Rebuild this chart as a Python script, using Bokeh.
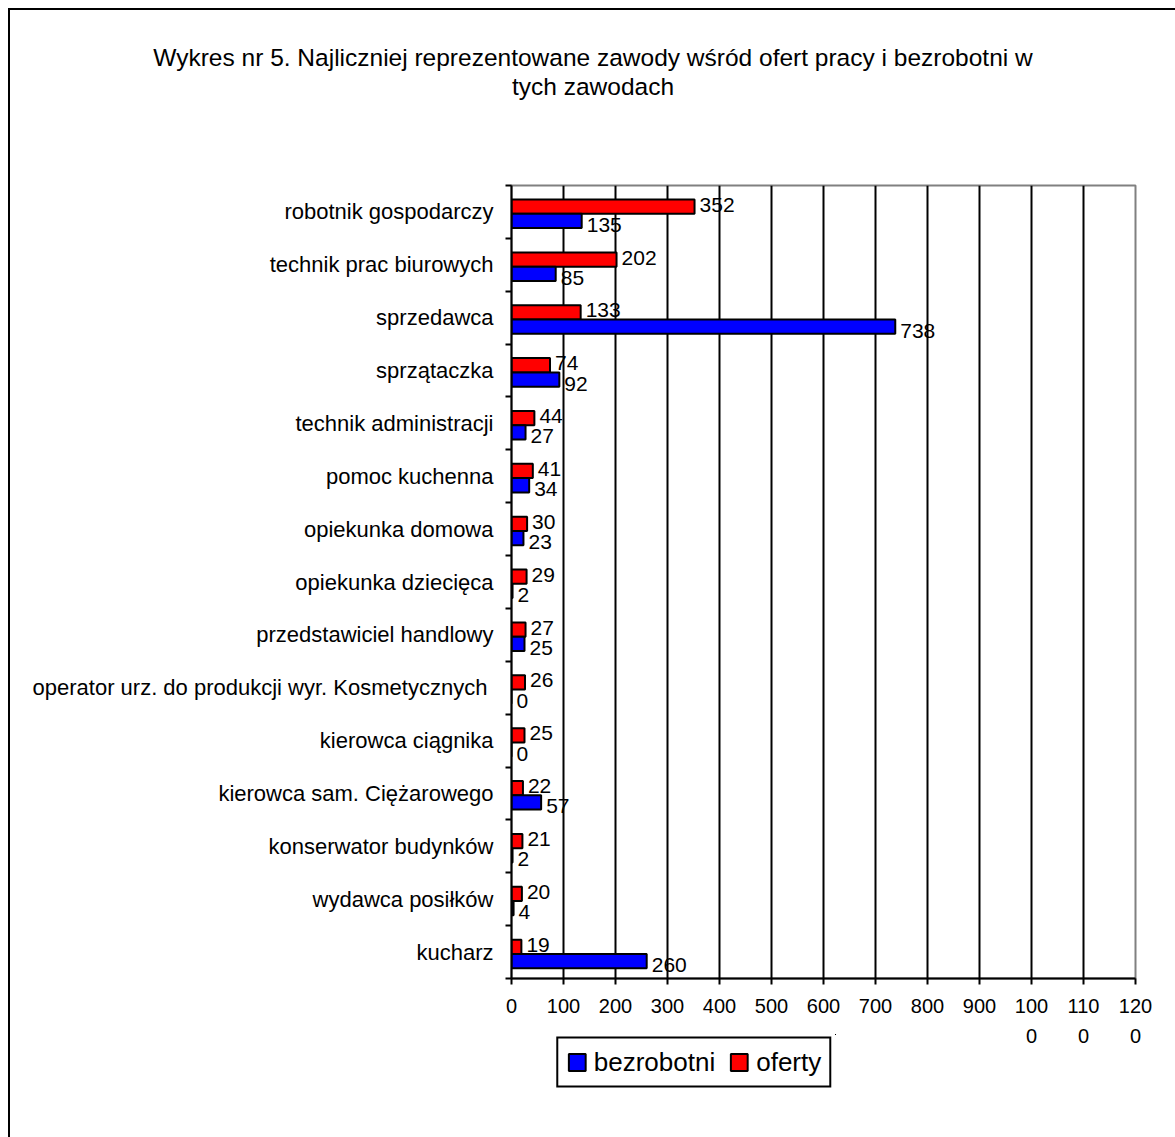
from bokeh.plotting import figure
from bokeh.models import (ColumnDataSource, Range1d, FixedTicker, Legend, LegendItem, Title)
from bokeh.layouts import column
from bokeh.core.properties import value
from bokeh.transform import dodge
from bokeh.embed import file_html
from bokeh.resources import INLINE

categories = ["robotnik gospodarczy", "technik prac biurowych", "sprzedawca", "sprzątaczka",
              "technik administracji", "pomoc kuchenna", "opiekunka domowa", "opiekunka dziecięca",
              "przedstawiciel handlowy", "operator urz. do produkcji  wyr. Kosmetycznych",
              "kierowca ciągnika", "kierowca sam. Ciężarowego", "konserwator budynków",
              "wydawca posiłków", "kucharz"]
oferty = [352, 202, 133, 74, 44, 41, 30, 29, 27, 26, 25, 22, 21, 20, 19]
bezrobotni = [135, 85, 738, 92, 27, 34, 23, 2, 25, 0, 0, 57, 2, 4, 260]
x_ticks = [0, 100, 200, 300, 400, 500, 600, 700, 800, 900, 1000, 1100, 1200]
x_tick_labels = ["0", "100", "200", "300", "400", "500", "600", "700", "800", "900",
                 "100\n0", "110\n0", "120\n0"]
title_line1 = "Wykres nr 5. Najliczniej reprezentowane zawody wśród ofert pracy i bezrobotni w"
title_line2 = "tych zawodach"
series_names = ["bezrobotni", "oferty"]
series_colors = ["#0000FF", "#FF0000"]

FONT = "Liberation Sans"
W = 1165

n = len(categories)
pos = [n - i - 0.5 for i in range(n)]
bounds = [float(i) for i in range(n + 1)]

src = ColumnDataSource(dict(y=pos, cat=categories, oferty=oferty, bezrobotni=bezrobotni,
                            ol=[str(v) for v in oferty], bl=[str(v) for v in bezrobotni]))

# ---- title strip ----
pt = figure(width=W, height=173, output_backend="svg", toolbar_location=None,
            x_range=Range1d(0, 1), y_range=Range1d(0, 1), x_axis_type=None, y_axis_type=None,
            min_border_left=0, min_border_right=0, min_border_top=89, min_border_bottom=0)
pt.frame_align = False
pt.outline_line_color = None
pt.background_fill_color = "white"
pt.border_fill_color = "white"
pt.title = None
for txt in (title_line2, title_line1):
    pt.add_layout(Title(text=txt, align="center", standoff=0, text_font=FONT,
                        text_font_size="24.5px", text_font_style="normal", text_color="black"),
                  "above")

# ---- main chart ----
p = figure(width=W, height=954, output_backend="svg", toolbar_location=None,
           x_range=Range1d(0, 1200), y_range=Range1d(0, n),
           min_border_left=501, min_border_right=40, min_border_top=2, min_border_bottom=159)
p.frame_align = False
p.background_fill_color = "white"
p.border_fill_color = "white"
p.outline_line_color = "#808080"
p.outline_line_width = 2

bh = 0.27
p.hbar(y=dodge("y", 0.10, range=p.y_range), right="oferty", left=0, height=bh, source=src,
       fill_color=series_colors[1], line_color="black", line_width=2)
p.hbar(y=dodge("y", -0.17, range=p.y_range), right="bezrobotni", left=0, height=bh, source=src,
       fill_color=series_colors[0], line_color="black", line_width=2)

p.text(x="oferty", y=dodge("y", 0.10, range=p.y_range), text="ol", source=src, x_offset=5, y_offset=-2,
       text_baseline="middle", text_align="left", text_font=value(FONT), text_font_size="21px",
       text_color="black")
p.text(x="bezrobotni", y=dodge("y", -0.17, range=p.y_range), text="bl", source=src, x_offset=5, y_offset=4,
       text_baseline="middle", text_align="left", text_font=value(FONT), text_font_size="21px",
       text_color="black")

xa = p.xaxis[0]
xa.ticker = FixedTicker(ticks=x_ticks, minor_ticks=[])
xa.major_label_overrides = {t: l for t, l in zip(x_ticks, x_tick_labels)}
xa.major_label_text_font = FONT
xa.major_label_text_font_size = "20px"
xa.major_label_text_color = "black"
xa.major_label_text_line_height = 1.4
xa.major_tick_in = 0
xa.major_tick_out = 6
xa.major_tick_line_width = 2
xa.major_tick_line_color = "black"
xa.axis_line_width = 2
xa.axis_line_color = "black"
xa.major_label_standoff = 10

ya = p.yaxis[0]
ya.ticker = FixedTicker(ticks=pos, minor_ticks=bounds)
ya.major_label_overrides = {y: c for y, c in zip(pos, categories)}
ya.major_label_text_font = FONT
ya.major_label_text_font_size = "22px"
ya.major_label_text_color = "black"
ya.major_tick_line_color = None
ya.major_tick_in = 0
ya.major_tick_out = 0
ya.minor_tick_in = 0
ya.minor_tick_out = 6
ya.minor_tick_line_width = 2
ya.minor_tick_line_color = "black"
ya.axis_line_width = 2
ya.axis_line_color = "black"
ya.major_label_standoff = 12

p.xgrid.grid_line_color = "black"
p.xgrid.grid_line_width = 2
p.xgrid.grid_line_alpha = 1
p.ygrid.grid_line_color = None

# ---- legend strip (overlaid below the axis) ----
pl = figure(width=285, height=56, output_backend="svg", toolbar_location=None,
            x_range=Range1d(-2000, -1990), y_range=Range1d(-200, -190),
            x_axis_type=None, y_axis_type=None,
            min_border_left=0, min_border_right=0, min_border_top=0, min_border_bottom=0)
pl.frame_align = False
pl.outline_line_color = None
pl.background_fill_color = None
pl.border_fill_color = None
lr = [pl.hbar(y="y", right=col, left=0, height=bh, source=src, fill_color=c,
              line_color="black", line_width=2)
      for col, c in zip(["bezrobotni", "oferty"], series_colors)]
legend = Legend(items=[LegendItem(label=nm, renderers=[r]) for nm, r in zip(series_names, lr)],
                orientation="horizontal", location="center", margin=0, padding=8,
                spacing=13, label_standoff=7, glyph_width=21, glyph_height=21,
                label_height=26, label_text_font=FONT, label_text_font_size="26px",
                label_text_color="black", label_text_baseline="middle",
                border_line_color="black", border_line_width=2, border_line_alpha=1,
                background_fill_color="white", background_fill_alpha=1)
pl.add_layout(legend, "center")
pl.margin = (-103, 0, 47, 541)

layout = column(pt, p, pl, spacing=0)
layout.styles = {"margin-left": "8px", "margin-top": "8px",
                 "border-left": "2px solid black", "border-top": "2px solid black"}

open("out.html", "w").write(file_html(layout, INLINE))
